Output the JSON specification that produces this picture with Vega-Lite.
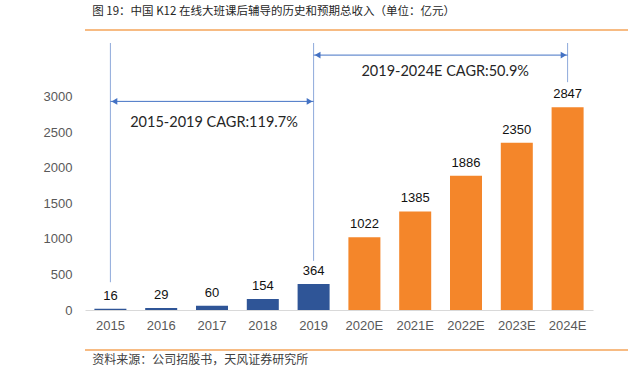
{
  "$schema": "https://vega.github.io/schema/vega-lite/v6.json",
  "padding": {"left": 17, "top": 5, "right": 5, "bottom": 2},
  "background": "white",
  "config": {"view": {"stroke": null}, "font": "Liberation Sans"},
  "spacing": 11,
  "vconcat": [
    {
      "width": 598,
      "height": 1,
      "data": {"values": [{"v": 0}]},
      "title": {"text": "图 19：中国 K12 在线大班课后辅导的历史和预期总收入（单位：亿元）", "anchor": "start", "font": "Noto Sans CJK SC", "fontSize": 11.5, "fontWeight": "normal", "color": "#262626", "offset": 12, "dx": 8},
      "mark": {"type": "rule", "color": "#F5A55A", "strokeWidth": 1.5},
      "encoding": {"y": {"field": "v", "type": "quantitative", "axis": null, "scale": {"domain": [0, 1]}}}
    },
    {
      "width": 508,
      "height": 267,
      "encoding": {
        "x": {
          "field": "year", "type": "nominal", "sort": null,
          "scale": {"domain": ["2015", "2016", "2017", "2018", "2019", "2020E", "2021E", "2022E", "2023E", "2024E"], "paddingInner": 0.37, "paddingOuter": 0.185},
          "axis": {"title": null, "labelAngle": 0, "ticks": false, "domainColor": "#D9D9D9", "labelColor": "#595959", "labelFontSize": 13, "labelPadding": 9}
        },
        "y": {
          "field": "value", "type": "quantitative",
          "scale": {"domain": [0, 3750]},
          "axis": {"title": null, "format": "d", "values": [0, 500, 1000, 1500, 2000, 2500, 3000], "domain": false, "ticks": false, "grid": false, "labelColor": "#595959", "labelFontSize": 13, "labelPadding": 13, "minExtent": 68}
        }
      },
      "layer": [
        {
          "data": {"name": "bars", "values": [
            {"year": "2015", "value": 16, "period": "hist"},
            {"year": "2016", "value": 29, "period": "hist"},
            {"year": "2017", "value": 60, "period": "hist"},
            {"year": "2018", "value": 154, "period": "hist"},
            {"year": "2019", "value": 364, "period": "hist"},
            {"year": "2020E", "value": 1022, "period": "fcst"},
            {"year": "2021E", "value": 1385, "period": "fcst"},
            {"year": "2022E", "value": 1886, "period": "fcst"},
            {"year": "2023E", "value": 2350, "period": "fcst"},
            {"year": "2024E", "value": 2847, "period": "fcst"}
          ]},
          "layer": [
            {
              "mark": {"type": "bar"},
              "encoding": {"color": {"field": "period", "type": "nominal", "legend": null, "scale": {"domain": ["hist", "fcst"], "range": ["#2F5597", "#F4862A"]}}}
            },
            {
              "mark": {"type": "text", "baseline": "bottom", "dy": -6, "fontSize": 13, "color": "#111111"},
              "encoding": {"text": {"field": "value", "type": "quantitative"}}
            }
          ]
        },
        {
          "data": {"values": [
            {"year": "2015", "value": 390, "value2": 3750},
            {"year": "2019", "value": 690, "value2": 3750},
            {"year": "2024E", "value": 3200, "value2": 3750}
          ]},
          "mark": {"type": "rule", "color": "#8EA9DB", "strokeWidth": 1},
          "encoding": {"y2": {"field": "value2"}}
        },
        {
          "data": {"values": [
            {"year": "2015", "year2": "2019", "value": 2930},
            {"year": "2019", "year2": "2024E", "value": 3580}
          ]},
          "mark": {"type": "rule", "color": "#4472C4", "strokeWidth": 1},
          "encoding": {"x2": {"field": "year2"}}
        },
        {
          "data": {"values": [
            {"year": "2015", "value": 2930},
            {"year": "2019", "value": 3580}
          ]},
          "mark": {"type": "point", "shape": "triangle-left", "filled": true, "size": 45, "opacity": 1, "color": "#4472C4", "xOffset": 4}
        },
        {
          "data": {"values": [
            {"year": "2019", "value": 2930},
            {"year": "2024E", "value": 3580}
          ]},
          "mark": {"type": "point", "shape": "triangle-right", "filled": true, "size": 45, "opacity": 1, "color": "#4472C4", "xOffset": -4}
        },
        {
          "data": {"values": [{"year": "2017", "value": 2620, "label": "2015-2019 CAGR:119.7%"}]},
          "mark": {"type": "text", "font": "Lato", "fontSize": 14.5, "color": "#262626", "dx": 2},
          "encoding": {"text": {"field": "label"}}
        },
        {
          "data": {"values": [{"year": "2021E", "value": 3337, "label": "2019-2024E CAGR:50.9%"}]},
          "mark": {"type": "text", "font": "Lato", "fontSize": 14.5, "color": "#262626", "dx": 30},
          "encoding": {"text": {"field": "label"}}
        }
      ]
    },
    {
      "width": 598,
      "height": 7,
      "data": {"values": [{"v": 0}]},
      "title": {"text": "资料来源：公司招股书，天风证券研究所", "orient": "bottom", "anchor": "start", "font": "Noto Sans CJK SC", "fontSize": 12, "fontWeight": "normal", "color": "#404040", "offset": 4, "dx": 8},
      "mark": {"type": "rule", "color": "#F5A55A", "strokeWidth": 1.5},
      "encoding": {"y": {"field": "v", "type": "quantitative", "axis": null, "scale": {"domain": [0, 1]}}}
    }
  ]
}
